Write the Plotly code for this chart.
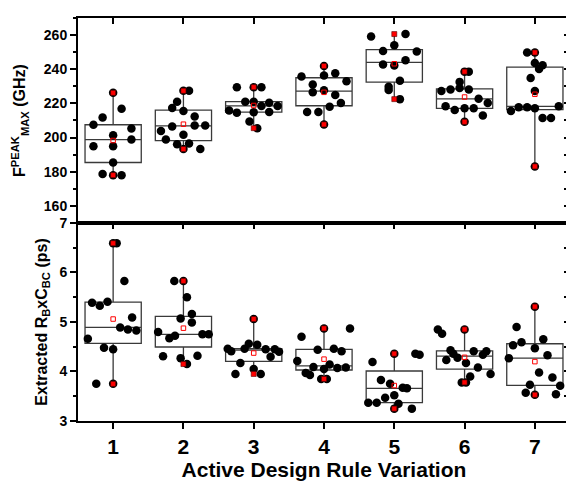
import numpy as np
import plotly.graph_objects as go

# ---------------- data ----------------
groups = [1, 2, 3, 4, 5, 6, 7]
x_tick_labels = ["1", "2", "3", "4", "5", "6", "7"]

# F_MAX^PEAK (GHz) per design-rule variation
fmax_ghz = [
    [226.2, 216.9, 211.7, 207.5, 205.3, 201.3, 198.8, 194.9, 194.9, 185.4, 178.7, 178.0, 178.0],
    [227.4, 227.4, 221.0, 217.3, 215.6, 212.3, 207.1, 207.1, 206.5, 203.8, 201.7, 198.8, 196.1, 196.5, 193.3, 193.3],
    [229.5, 229.5, 229.5, 221.0, 221.0, 220.4, 218.5, 218.5, 215.8, 214.6, 214.8, 215.0, 209.4, 205.5],
    [241.9, 237.6, 236.4, 235.7, 233.0, 231.0, 227.7, 226.6, 224.9, 220.2, 218.1, 215.0, 215.0, 207.7],
    [260.6, 259.2, 254.0, 250.7, 250.4, 245.3, 242.8, 242.2, 233.3, 229.7, 227.8, 222.5],
    [238.6, 238.6, 232.6, 229.0, 228.1, 228.1, 227.2, 222.7, 220.2, 218.3, 217.1, 217.1, 216.2, 212.9, 209.2],
    [249.8, 249.8, 243.6, 242.3, 240.1, 234.9, 227.2, 218.3, 217.7, 217.7, 217.1, 215.6, 211.5, 211.5, 183.1],
]
# swarm layout: horizontal offset of each dot from its group centre (x units)
fmax_swarm_dx = [
    [0, 0.12, -0.15, -0.28, 0.26, 0, 0.26, -0.28, 0, 0, -0.15, 0, 0.12],
    [0, 0.08, -0.09, -0.16, 0, 0.16, 0.16, 0.31, -0.16, -0.32, 0, -0.25, -0.09, 0.08, 0, 0.24],
    [-0.24, 0, 0.11, -0.12, 0, 0.22, 0.11, 0.34, -0.35, -0.24, 0, 0.22, -0.06, 0.05],
    [0, 0.16, 0, -0.32, 0.32, -0.16, 0, -0.16, 0.16, 0.24, 0.08, -0.24, -0.08, 0],
    [0.16, -0.33, 0, -0.16, 0.32, 0.16, -0.16, 0, 0.08, -0.08, -0.08, 0.08],
    [0, 0.06, -0.07, -0.07, -0.2, 0.06, -0.33, 0.2, 0.33, -0.27, 0, 0.13, -0.14, 0.26, 0],
    [-0.11, 0, 0, 0.11, 0.06, -0.06, 0, 0.34, -0.23, -0.11, 0, -0.34, 0.11, 0.23, 0],
]

# Extracted R_B x C_BC (ps) per design-rule variation
rbcbc_ps = [
    [6.59, 6.59, 5.83, 5.41, 5.39, 5.33, 5.09, 4.89, 4.85, 4.83, 4.66, 4.48, 4.45, 3.75, 3.75],
    [5.83, 5.83, 5.50, 5.16, 5.07, 4.99, 4.80, 4.75, 4.75, 4.72, 4.67, 4.32, 4.31, 4.27, 4.15],
    [5.06, 4.56, 4.54, 4.46, 4.41, 4.46, 4.45, 4.45, 4.40, 4.30, 4.17, 4.05, 3.95, 3.95],
    [4.87, 4.87, 4.70, 4.46, 4.44, 4.41, 4.21, 4.14, 4.09, 4.05, 4.07, 4.08, 3.97, 3.93, 3.85, 3.85],
    [4.36, 4.36, 4.34, 4.19, 3.83, 3.75, 3.67, 3.66, 3.52, 3.47, 3.37, 3.37, 3.35, 3.25, 3.25],
    [4.85, 4.76, 4.85, 4.43, 4.36, 4.28, 4.23, 4.41, 4.34, 4.41, 4.17, 4.08, 3.95, 3.90, 3.78, 3.78],
    [5.31, 4.90, 4.65, 4.59, 4.53, 4.47, 4.33, 4.27, 3.98, 3.88, 3.73, 3.71, 3.57, 3.54, 3.53],
]
rbcbc_swarm_dx = [
    [0, 0.05, 0.16, -0.08, -0.30, -0.19, 0.27, 0.10, 0.21, 0.33, -0.36, -0.13, 0, -0.24, 0],
    [-0.13, 0, 0.05, 0.12, -0.04, 0.12, -0.36, 0.27, 0.36, -0.12, -0.20, 0.20, -0.29, -0.04, 0.05],
    [0, -0.07, 0.05, -0.37, -0.32, -0.13, 0.17, 0.30, 0.36, 0.24, -0.19, 0, -0.26, 0.10],
    [0, 0.37, -0.32, 0.14, -0.09, 0.25, -0.38, 0.08, -0.15, 0, 0.19, 0.31, -0.26, -0.20, -0.04, 0.04],
    [0, 0.30, 0.36, -0.31, -0.19, -0.06, 0.12, 0.18, 0, -0.13, -0.37, -0.25, 0.06, 0, 0.25],
    [-0.38, -0.32, 0, -0.20, -0.16, -0.10, -0.26, 0.13, 0.26, 0.31, 0.02, 0.19, 0.37, 0.08, -0.04, 0.02],
    [0, -0.26, 0.12, -0.19, -0.31, 0, 0.18, -0.37, 0.06, 0.25, -0.07, 0.36, -0.13, 0.30, 0],
]

FONT = "Arial, Liberation Sans, sans-serif"
BOX_LINE = "#3a3a3a"


def panel_traces(values, swarm_dx, xa, ya):
    traces = []
    q1 = [float(np.percentile(v, 25)) for v in values]
    med = [float(np.percentile(v, 50)) for v in values]
    q3 = [float(np.percentile(v, 75)) for v in values]
    lo = [float(np.min(v)) for v in values]
    hi = [float(np.max(v)) for v in values]
    mean = [float(np.mean(v)) for v in values]
    traces.append(go.Box(
        x=groups, q1=q1, median=med, q3=q3, lowerfence=lo, upperfence=hi,
        width=0.8, whiskerwidth=0, boxpoints=False,
        line=dict(color=BOX_LINE, width=1.3), fillcolor="rgba(0,0,0,0)",
        xaxis=xa, yaxis=ya, showlegend=False, hoverinfo="skip",
    ))
    px, py = [], []
    for g, v, d in zip(groups, values, swarm_dx):
        px.extend([g + dd for dd in d])
        py.extend(v)
    traces.append(go.Scatter(
        x=px, y=py, mode="markers",
        marker=dict(size=8.5, color="black", line=dict(width=0)),
        xaxis=xa, yaxis=ya, showlegend=False, hoverinfo="skip",
    ))
    # min / max markers
    traces.append(go.Scatter(
        x=groups + groups, y=lo + hi, mode="markers",
        marker=dict(symbol="square", size=5, color="#ff0000", line=dict(width=0.6, color="#550000")),
        xaxis=xa, yaxis=ya, showlegend=False, hoverinfo="skip",
    ))
    # mean markers
    traces.append(go.Scatter(
        x=groups, y=mean, mode="markers",
        marker=dict(symbol="square-open", size=4.5, color="#ff0000", line=dict(width=1)),
        xaxis=xa, yaxis=ya, showlegend=False, hoverinfo="skip",
    ))
    return traces


fig = go.Figure()
for t in panel_traces(fmax_ghz, fmax_swarm_dx, "x", "y"):
    fig.add_trace(t)
for t in panel_traces(rbcbc_ps, rbcbc_swarm_dx, "x2", "y2"):
    fig.add_trace(t)
# carriers for the inward tick axes
for xa, ya in [("x3", "y"), ("x4", "y2"), ("x", "y3"), ("x2", "y4")]:
    fig.add_trace(go.Scatter(x=[], y=[], xaxis=xa, yaxis=ya, showlegend=False, hoverinfo="skip"))

split = 200 / 407
XR = [0.5, 7.5]
YR_TOP = [150, 270]
YR_BOT = [3, 7]

common_line = dict(showline=True, linewidth=2, linecolor="black", mirror=True,
                   showgrid=False, zeroline=False)
inner_ticks = dict(showline=False, showgrid=False, zeroline=False, showticklabels=False,
                   ticks="inside", ticklen=6, tickwidth=1.5, tickcolor="black")

# the page body adds an 8 px offset, so the figure is 8 px smaller than the window
fig.update_layout(
    width=566, height=475,
    margin=dict(l=70, r=2, t=6, b=62),
    paper_bgcolor="white", plot_bgcolor="white",
    font=dict(family=FONT, color="black"),
    showlegend=False,
    xaxis=dict(domain=[0, 1], anchor="y", range=XR, ticks="", showticklabels=False, **common_line),
    xaxis2=dict(domain=[0, 1], anchor="y2", range=XR, tickvals=groups, ticktext=x_tick_labels,
                ticks="outside", ticklen=6, tickwidth=1.5, tickcolor="black",
                tickfont=dict(size=21, weight="bold"),
                title=dict(text="Active Design Rule Variation", font=dict(size=21, weight="bold"), standoff=4),
                **common_line),
    xaxis3=dict(overlaying="x", anchor="y", side="top", range=XR, tickvals=groups, **inner_ticks),
    xaxis4=dict(overlaying="x2", anchor="y2", side="top", range=XR, tickvals=groups, **inner_ticks),
    yaxis=dict(domain=[split, 1], anchor="x", range=YR_TOP, tick0=160, dtick=20,
               ticks="outside", ticklen=6, tickwidth=1.5, tickcolor="black",
               minor=dict(ticks="outside", ticklen=3, tickwidth=1.5, dtick=10, tick0=150, tickcolor="black"),
               tickfont=dict(size=14, weight="bold"),
               title=dict(text="F<sup>PEAK</sup><sub>MAX</sub> (GHz)", font=dict(size=16, weight="bold"), standoff=14),
               **common_line),
    yaxis2=dict(domain=[0, split], anchor="x2", range=YR_BOT, tick0=3, dtick=1,
                ticks="outside", ticklen=6, tickwidth=1.5, tickcolor="black",
                minor=dict(ticks="outside", ticklen=3, tickwidth=1.5, dtick=0.5, tick0=3, tickcolor="black"),
                tickfont=dict(size=14, weight="bold"),
                title=dict(text="Extracted R<sub>B</sub>xC<sub>BC</sub> (ps)", font=dict(size=16, weight="bold"), standoff=8),
                **common_line),
    yaxis3=dict(overlaying="y", anchor="x", side="right", range=YR_TOP, tick0=150, dtick=10, **inner_ticks),
    yaxis4=dict(overlaying="y2", anchor="x2", side="right", range=YR_BOT, tick0=3, dtick=0.5, **inner_ticks),
)

fig.write_html("out.html")
